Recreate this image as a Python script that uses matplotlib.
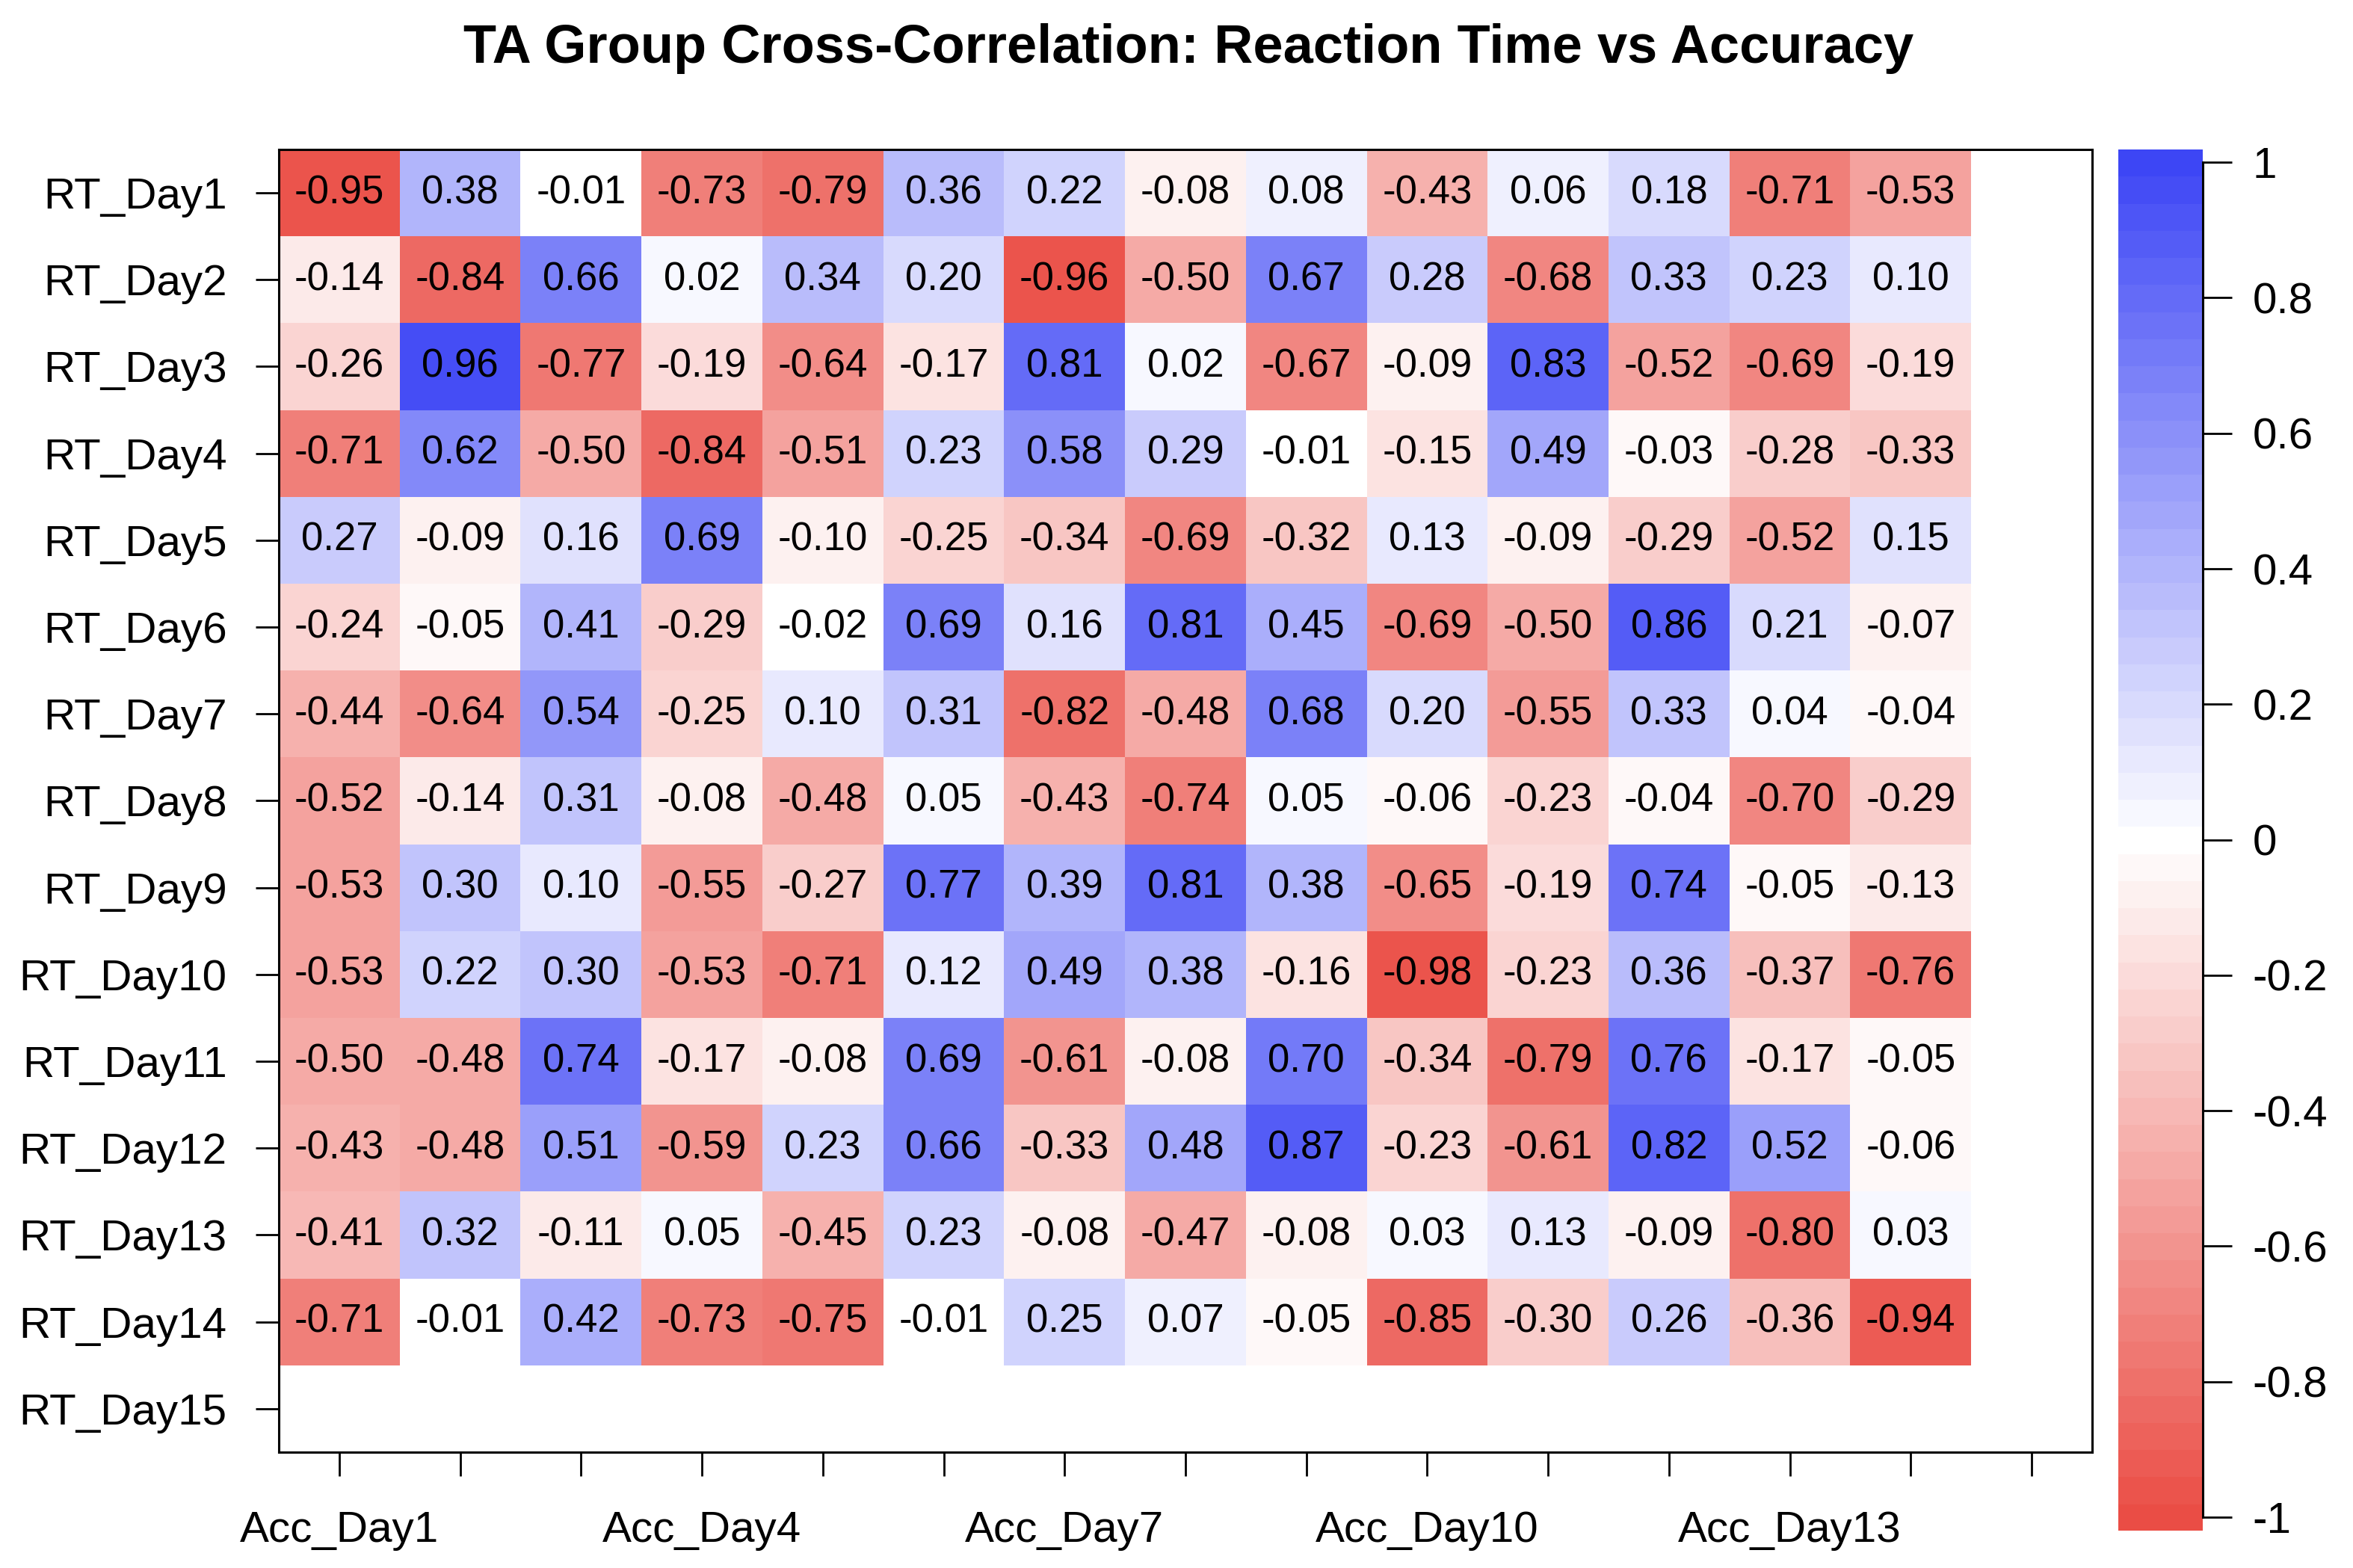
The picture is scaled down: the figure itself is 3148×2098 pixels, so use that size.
import numpy as np
import matplotlib
matplotlib.use("Agg")
import matplotlib.pyplot as plt
from matplotlib.colors import LinearSegmentedColormap, BoundaryNorm

plt.rcParams['font.family'] = ['Liberation Sans', 'DejaVu Sans']
plt.rcParams['axes.unicode_minus'] = False

# labels (day 15 has no data in either direction)
rt_labels = ["RT_Day%d" % i for i in range(1, 16)]
acc_labels = ["Acc_Day%d" % i for i in range(1, 16)]
acc_shown = ["Acc_Day1", "Acc_Day4", "Acc_Day7", "Acc_Day10", "Acc_Day13"]

# cross-correlations, rows = RT_Day1..14, cols = Acc_Day1..14
corr = [
    [-0.95, 0.38, -0.01, -0.73, -0.79, 0.36, 0.22, -0.08, 0.08, -0.43, 0.06, 0.18, -0.71, -0.53],
    [-0.14, -0.84, 0.66, 0.02, 0.34, 0.20, -0.96, -0.50, 0.67, 0.28, -0.68, 0.33, 0.23, 0.10],
    [-0.26, 0.96, -0.77, -0.19, -0.64, -0.17, 0.81, 0.02, -0.67, -0.09, 0.83, -0.52, -0.69, -0.19],
    [-0.71, 0.62, -0.50, -0.84, -0.51, 0.23, 0.58, 0.29, -0.01, -0.15, 0.49, -0.03, -0.28, -0.33],
    [0.27, -0.09, 0.16, 0.69, -0.10, -0.25, -0.34, -0.69, -0.32, 0.13, -0.09, -0.29, -0.52, 0.15],
    [-0.24, -0.05, 0.41, -0.29, -0.02, 0.69, 0.16, 0.81, 0.45, -0.69, -0.50, 0.86, 0.21, -0.07],
    [-0.44, -0.64, 0.54, -0.25, 0.10, 0.31, -0.82, -0.48, 0.68, 0.20, -0.55, 0.33, 0.04, -0.04],
    [-0.52, -0.14, 0.31, -0.08, -0.48, 0.05, -0.43, -0.74, 0.05, -0.06, -0.23, -0.04, -0.70, -0.29],
    [-0.53, 0.30, 0.10, -0.55, -0.27, 0.77, 0.39, 0.81, 0.38, -0.65, -0.19, 0.74, -0.05, -0.13],
    [-0.53, 0.22, 0.30, -0.53, -0.71, 0.12, 0.49, 0.38, -0.16, -0.98, -0.23, 0.36, -0.37, -0.76],
    [-0.50, -0.48, 0.74, -0.17, -0.08, 0.69, -0.61, -0.08, 0.70, -0.34, -0.79, 0.76, -0.17, -0.05],
    [-0.43, -0.48, 0.51, -0.59, 0.23, 0.66, -0.33, 0.48, 0.87, -0.23, -0.61, 0.82, 0.52, -0.06],
    [-0.41, 0.32, -0.11, 0.05, -0.45, 0.23, -0.08, -0.47, -0.08, 0.03, 0.13, -0.09, -0.80, 0.03],
    [-0.71, -0.01, 0.42, -0.73, -0.75, -0.01, 0.25, 0.07, -0.05, -0.85, -0.30, 0.26, -0.36, -0.94],
]
cbar_ticks = [-1, -0.8, -0.6, -0.4, -0.2, 0, 0.2, 0.4, 0.6, 0.8, 1]

n_rt = len(rt_labels)
n_acc = len(acc_labels)
mat = np.full((n_rt, n_acc), np.nan)
c = np.array(corr)
mat[:c.shape[0], :c.shape[1]] = c

ncol = 51
cmap = LinearSegmentedColormap.from_list("rwb", ["#EA4D45", "#FFFFFF", "#3D46F5"], N=ncol)
cmap.set_bad("white")
# bins slightly shifted so 0.02 already tints blue, like the original
bounds = np.linspace(-1.02, 1.02, ncol + 1) - 0.001
norm = BoundaryNorm(bounds, ncol)

fig = plt.figure(figsize=(15.74, 10.49), dpi=200)
ax = fig.add_axes([0.1185, 0.0739, 0.7706, 0.8308])

ax.pcolormesh(np.arange(n_acc + 1), np.arange(n_rt + 1), np.ma.masked_invalid(mat),
              cmap=cmap, norm=norm)
ax.set_xlim(0, n_acc)
ax.set_ylim(n_rt, 0)

for i in range(n_rt):
    for j in range(n_acc):
        if not np.isnan(mat[i, j]):
            ax.text(j + 0.5, i + 0.5, "%.2f" % mat[i, j], ha="center", va="center",
                    fontsize=19, color="black")

ax.set_xticks(np.arange(n_acc) + 0.5)
ax.set_xticklabels([l if l in acc_shown else "" for l in acc_labels])
ax.set_yticks(np.arange(n_rt) + 0.5)
ax.set_yticklabels(rt_labels)
ax.tick_params(axis="x", length=11.5, width=1, pad=16.5, labelsize=21)
ax.tick_params(axis="y", length=11, width=1, pad=14, labelsize=21)
for s in ax.spines.values():
    s.set_linewidth(1.1)

fig.text(0.505, 0.969, "TA Group Cross-Correlation: Reaction Time vs Accuracy",
         ha="center", va="center", fontsize=26, fontweight="bold")

# colour bar
cax = fig.add_axes([0.9003, 0.0238, 0.0359, 0.8813])
centers = (bounds[:-1] + bounds[1:]) / 2
cax.pcolormesh([0, 1], bounds, centers.reshape(-1, 1), cmap=cmap, norm=norm)
cax.set_xlim(0, 1)
cax.set_ylim(-1.02, 1.02)
cax.set_xticks([])
for side in ["left", "top", "bottom"]:
    cax.spines[side].set_visible(False)
cax.spines["right"].set_bounds(-1, 1)
cax.spines["right"].set_linewidth(1.1)
cax.yaxis.tick_right()
cax.set_yticks(cbar_ticks)
cax.set_yticklabels(["%g" % t for t in cbar_ticks])
cax.tick_params(axis="y", length=14, width=1, pad=10, labelsize=21)

fig.savefig("out.png", dpi=200)
